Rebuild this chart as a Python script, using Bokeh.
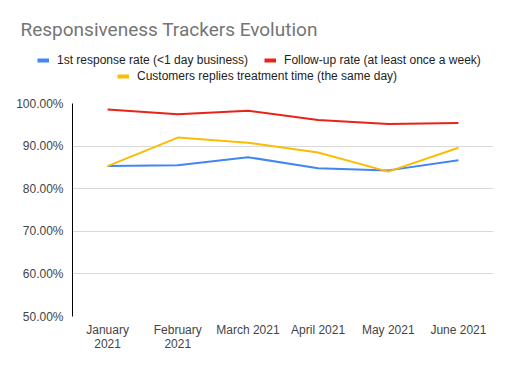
from bokeh.plotting import figure
from bokeh.models import (Legend, LegendItem, Label, FixedTicker, PrintfTickFormatter, Range1d,
                          FactorRange)
from bokeh.embed import file_html
from bokeh.resources import INLINE

months = ["January\n2021", "February\n2021", "March 2021", "April 2021", "May 2021", "June 2021"]
first_response = [85.3, 85.5, 87.4, 84.8, 84.3, 86.7]
follow_up = [98.6, 97.5, 98.3, 96.1, 95.2, 95.4]
customer_replies = [85.3, 92.0, 90.8, 88.5, 84.0, 89.6]
y_ticks = [50, 60, 70, 80, 90, 100]

series_names = ["1st response rate (<1 day business)", "Follow-up rate (at least once a week)",
                "Customers replies treatment time (the same day)"]
colors = ["#4285f4", "#e8231a", "#fbbc04"]
title_text = "Responsiveness Trackers Evolution"

W = 512
HH = 95                      # header height (title + legend)
MH = 368 - HH                # main chart height
FL, FT, FW, FH = 72, 8, 421, 213

# ---- header: title + legend -------------------------------------------------
hdr = figure(width=W, height=HH, output_backend="svg", toolbar_location=None,
             x_range=Range1d(0, 1), y_range=Range1d(0, 1), x_axis_type=None, y_axis_type=None,
             min_border=0, min_border_left=0, min_border_right=0, min_border_top=0,
             min_border_bottom=0)
hdr.outline_line_color = None
hdr.xgrid.visible = False
hdr.ygrid.visible = False
hdr.background_fill_color = "white"
hdr.border_fill_color = "white"

hdr.add_layout(Label(x=20, y=HH - 29, x_units="screen", y_units="screen", text=title_text,
                     text_font="Roboto", text_font_size="19px", text_color="#757575",
                     text_baseline="alphabetic"))

# legend-only renderers (zero-length, not visible in the header)
swatches = [hdr.line([0, 0], [0, 0], line_color=c, line_width=4) for c in colors]


def make_legend(idx, x, top):
    leg = Legend(items=[LegendItem(label=series_names[i], renderers=[swatches[i]]) for i in idx],
                 location=(x, HH - top - 12), orientation="horizontal", glyph_width=12,
                 glyph_height=12, label_height=12, label_standoff=8, spacing=16, padding=0,
                 margin=0, border_line_color=None, background_fill_alpha=0,
                 label_text_font="Liberation Sans", label_text_font_size="12px",
                 label_text_color="#222222")
    hdr.add_layout(leg)


make_legend([0, 1], 37, 55)
make_legend([2], 117, 71)

# ---- main chart -------------------------------------------------------------
p = figure(x_range=FactorRange(*months, range_padding=0), y_range=Range1d(50, 100),
           width=W, height=MH, output_backend="svg", toolbar_location=None,
           min_border_left=FL, min_border_top=FT, min_border_right=W - FL - FW,
           min_border_bottom=MH - FT - FH)
p.outline_line_color = None
p.background_fill_color = "white"
p.border_fill_color = "white"

for vals, c in zip([first_response, follow_up, customer_replies], colors):
    p.line(months, vals, line_color=c, line_width=2)

p.yaxis.ticker = FixedTicker(ticks=y_ticks)
p.yaxis.formatter = PrintfTickFormatter(format="%.2f%%")
p.yaxis.axis_line_color = "black"
p.yaxis.major_tick_line_color = None
p.yaxis.minor_tick_line_color = None
p.yaxis.major_label_text_font = "Liberation Sans"
p.yaxis.major_label_text_font_size = "12px"
p.yaxis.major_label_text_color = "#444444"
p.yaxis.major_label_standoff = 3

p.xaxis.axis_line_color = None
p.xaxis.major_tick_line_color = None
p.xaxis.major_label_text_font = "Liberation Sans"
p.xaxis.major_label_text_font_size = "12px"
p.xaxis.major_label_text_color = "#444444"
p.xaxis.major_label_text_line_height = 1.0
p.xaxis.major_label_standoff = 0

p.xgrid.grid_line_color = None
p.ygrid.grid_line_color = "#d9d9d9"
p.ygrid.ticker = FixedTicker(ticks=y_ticks)

open("out.html", "w").write(file_html([hdr, p], INLINE))
